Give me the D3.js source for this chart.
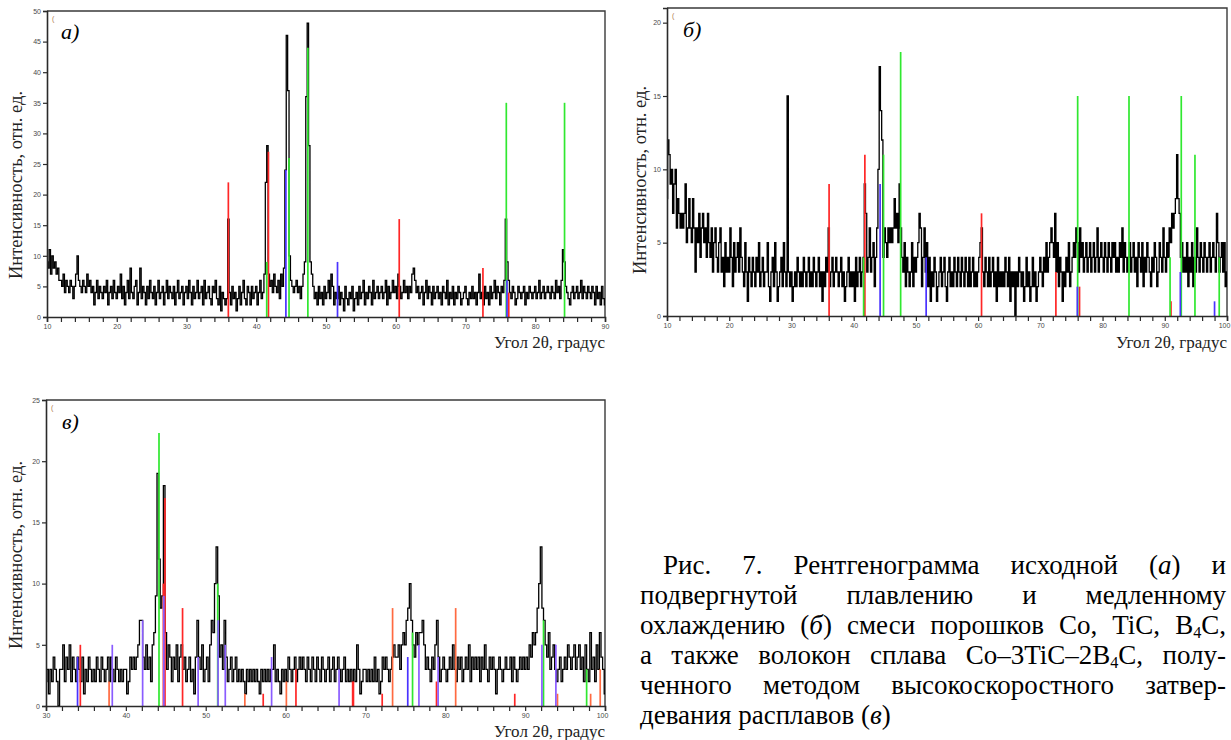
<!DOCTYPE html>
<html>
<head>
<meta charset="utf-8">
<script src="https://cdn.jsdelivr.net/npm/d3@7"></script>
<style>
body { margin: 0; background: #fff; }
</style>
</head>
<body>
<div id="root"></div>
<script>
// scan (a): 10..90 deg, step 0.2
var scanA = [
  9,8,11,7,10,8,9,7,8,6,  6,5,7,4,6,5,4,6,5,3,  5,7,10,6,5,4,6,5,4,7,  5,6,4,5,2,4,6,3,5,4,
  3,5,4,6,2,4,5,3,6,4,  3,5,4,7,3,5,2,4,6,3,  8,4,3,5,6,2,4,8,3,5,  4,2,5,3,6,4,3,5,2,4,
  6,3,4,5,2,4,6,3,5,4,  3,5,2,4,6,3,4,5,2,4,  5,3,6,4,2,5,3,4,6,3,  4,5,2,6,3,4,5,3,2,5,
  4,6,3,2,5,1,4,3,2,3,  16,4,2,5,3,4,1,3,5,2,  4,6,3,2,5,4,2,5,3,4,  5,2,4,6,3,4,7,22,28,7,
  5,6,4,7,5,4,6,3,7,5,  8,24,46,37,10,6,5,4,5,6,  4,5,3,5,7,9,36,48,28,9,  7,5,3,4,2,5,3,4,2,5,
  3,4,6,3,7,5,2,4,3,5,  2,4,3,1,5,3,2,4,3,5,  1,3,4,2,5,3,4,6,2,4,  3,5,4,2,6,3,4,5,3,4,
  5,3,4,6,2,5,3,4,6,4,  5,3,7,5,3,4,6,4,5,3,  5,4,7,8,6,4,5,3,4,5,  2,4,6,3,5,4,2,5,3,4,
  5,3,4,2,5,4,3,6,2,4,  3,5,2,4,3,5,4,2,3,4,  5,3,2,4,3,5,3,4,2,4,  7,3,4,2,5,3,4,2,5,3,
  4,6,3,5,4,2,5,4,6,16,  9,6,4,3,5,4,2,3,5,4,  3,4,5,2,4,3,5,4,3,4,  5,3,4,6,3,4,5,3,4,5,
  4,3,5,4,3,6,4,5,3,6,  11,9,5,4,3,2,4,5,3,4,  5,3,4,6,3,5,4,3,5,4,  3,5,4,2,5,3,4,2,5,3,
  2
];
// scan (б): 10..100 deg, step 0.2
var scanB = [
  8,12,11,9,10,7,9,10,6,8,  7,6,7,6,7,9,5,6,8,6,  5,8,6,3,6,5,7,4,6,7,  5,6,4,7,5,4,6,3,5,6,
  4,3,5,6,3,4,2,5,3,4,  3,6,4,2,5,3,4,5,3,6,  4,3,2,5,3,1,4,3,2,4,  3,2,4,3,5,2,3,4,2,3,
  3,5,2,1,3,4,2,5,3,1,  2,3,4,2,5,3,2,15,3,2,  3,1,2,3,2,4,3,2,3,2,  4,3,2,3,4,2,3,2,4,3,
  2,3,4,2,3,1,3,2,4,3,  6,2,3,4,2,3,4,3,2,3,  4,2,3,1,2,3,4,2,3,2,  3,1,4,2,3,4,2,3,4,9,
  7,3,4,6,3,4,5,2,4,6,  10,17,14,12,4,6,5,4,6,5,  6,5,6,8,6,7,5,9,6,4,  3,5,2,4,3,2,3,5,2,4,
  3,4,5,7,6,2,4,6,3,5,  2,4,1,3,2,4,3,1,2,3,  4,2,3,4,2,1,3,4,2,3,  2,4,3,2,4,3,2,4,3,2,
  4,3,2,4,2,3,4,2,3,2,  3,4,5,6,3,2,4,3,2,4,  2,3,4,2,3,1,4,2,3,2,  3,2,4,3,2,4,1,3,2,3,
  0,3,2,4,3,2,3,1,2,4,  2,3,1,2,4,2,3,1,2,3,  4,3,2,4,3,5,3,4,5,6,  5,4,7,3,5,2,4,3,1,3,
  2,4,3,5,2,3,4,5,4,6,  5,3,6,4,5,3,4,5,3,4,  5,3,4,5,3,4,6,3,4,5,  4,3,5,4,3,5,4,3,5,4,
  5,3,4,3,5,4,6,3,5,4,  3,4,5,3,4,5,3,4,2,5,  4,3,5,2,4,3,5,4,3,2,  4,3,5,4,2,3,5,4,3,6,
  4,3,5,4,6,5,7,6,7,8,  11,8,7,4,5,3,4,3,5,2,  4,3,5,2,4,3,6,4,3,5,  4,3,5,4,3,4,5,3,4,5,
  4,3,7,5,3,4,5,3,5,2,
  3
];
// scan (в): 30..100 deg, step 0.2
var scanC = [
  2,3,1,3,2,4,3,2,0,3,  3,5,2,4,3,5,2,4,3,2,  4,3,2,4,1,3,2,4,3,2,  3,2,4,3,2,4,3,2,3,4,
  2,4,3,2,4,3,2,3,2,3,  3,1,2,4,3,4,3,4,5,7,  7,4,3,5,3,4,2,5,6,9,  19,12,8,9,18,6,3,5,4,2,
  4,3,5,2,4,5,3,4,2,3,  4,2,3,1,4,7,4,3,5,2,  3,4,2,5,7,6,10,13,9,4,  5,3,7,4,2,3,4,2,3,4,
  2,3,2,3,2,1,3,2,3,2,  3,2,3,2,1,3,2,3,2,3,  2,3,3,5,2,3,2,1,3,2,  3,2,4,3,2,3,4,2,3,4,
  3,4,3,2,4,3,2,4,3,2,  4,3,2,4,3,2,3,4,2,3,  4,2,3,4,3,2,3,4,2,3,  2,3,2,3,2,5,3,1,2,3,
  3,2,3,2,3,2,4,2,3,1,  2,4,3,4,3,2,3,4,5,4,  4,5,3,5,6,5,7,8,10,7,  5,4,6,5,6,6,7,5,3,4,
  3,2,4,3,5,7,4,2,3,4,  3,2,3,4,3,5,3,2,4,3,  4,2,3,4,3,5,2,4,3,4,  3,4,2,4,3,5,3,2,4,3,
  4,3,1,3,4,3,2,3,4,3,  3,4,2,4,3,2,3,4,3,4,  3,4,3,5,4,6,5,6,8,10,  13,8,7,5,4,6,3,4,5,3,
  2,3,4,2,3,4,3,5,4,3,  4,5,3,4,5,3,4,2,5,3,  2,6,3,4,2,5,3,6,4,3,
  1
];

// reference lines [2theta, intensity]
var aRed   = [[36.0, 22], [41.75, 27], [60.5, 16], [72.5, 8], [76.2, 4]];
var aGreen = [[41.5, 9], [44.7, 26], [47.4, 44], [75.85, 35], [84.2, 35]];
var aBlue  = [[44.25, 24], [51.65, 9], [75.95, 6]];

var bRed   = [[36.05, 9], [41.8, 11], [60.55, 7], [72.5, 3], [76.3, 2], [91.0, 1]];
var bGreen = [[41.6, 4], [44.8, 11], [47.55, 18], [76.0, 15], [84.25, 15], [90.85, 4], [92.65, 15], [94.85, 11], [98.75, 4]];
var bBlue  = [[44.25, 9], [51.65, 4], [75.95, 2], [92.5, 3], [98.0, 1]];

var cRed    = [[34.3, 5], [44.7, 10], [44.9, 17], [47.1, 8], [57.2, 1], [61.3, 3], [68.4, 2], [68.5, 2], [72.1, 1], [78.9, 2], [88.7, 1]];
var cOrange = [[37.9, 2], [54.9, 1], [60.1, 2], [73.4, 8], [81.3, 8], [94.05, 1], [98.2, 1], [99.4, 3]];
var cGreen  = [[44.15, 22.3], [51.5, 10], [75.9, 6], [92.3, 7], [97.7, 3]];
var cBlue   = [[33.95, 4], [75.3, 4]];
var cViolet = [[38.3, 5], [42.1, 7], [44.75, 9], [49.05, 4], [51.55, 7], [52.45, 5], [58.25, 4], [66.7, 3], [76.7, 5], [79.1, 4], [92.1, 5], [93.85, 5]];

var yTitle = "Интенсивность, отн. ед.";
var xTitle = "Угол 2θ, градус";

var captionLines = [
  "Рис. 7. Рентгенограмма исходной (<i>а</i>) и",
  "подвергнутой плавлению и медленному",
  "охлаждению (<i>б</i>) смеси порошков Co, TiC, B<sub>4</sub>C,",
  "а также волокон сплава Co–3TiC–2B<sub>4</sub>C, полу-",
  "ченного методом высокоскоростного затвер-",
  "девания расплавов (<i>в</i>)"
];

var colors = { red: "#ff2626", green: "#30e830", blue: "#4a32ff", orange: "#ff6a40", violet: "#8a5cff" };
var serif = "'Liberation Serif', 'Times New Roman', serif";

var svg = d3.select("#root").append("svg")
  .attr("width", 1231)
  .attr("height", 740)
  .style("display", "block");

function drawPanel(p) {
  var g = svg.append("g");
  var x = d3.scaleLinear().domain(p.xDom).range([p.x0, p.x1]);
  var y = d3.scaleLinear().domain(p.yDom).range([p.y0, p.y1]);

  // top and right frame
  g.append("path")
    .attr("d", "M" + p.x0 + "," + p.y1 + "H" + p.x1 + "V" + p.y0)
    .attr("fill", "none").attr("stroke", "#3a3a3a").attr("stroke-width", 1.4);

  // measured scan
  var pts = p.scan.map(function (v, i) { return [p.xDom[0] + i * p.step, v]; });
  var line = d3.line().x(function (d) { return x(d[0]); }).y(function (d) { return y(d[1]); }).curve(d3.curveStep);
  g.append("path").datum(pts)
    .attr("d", line)
    .attr("fill", "none").attr("stroke", "#000").attr("stroke-width", 1.3);

  // phase reference lines
  p.sticks.forEach(function (s) {
    g.append("g").selectAll("line").data(s.data).join("line")
      .attr("x1", function (d) { return x(d[0]); })
      .attr("x2", function (d) { return x(d[0]); })
      .attr("y1", y(0))
      .attr("y2", function (d) { return y(d[1]); })
      .attr("stroke", colors[s.color]).attr("stroke-width", 1.7);
  });

  // axes
  var xAxis = d3.axisBottom(x)
    .tickValues(d3.range(p.xDom[0], p.xDom[1] + 0.01, 2))
    .tickSize(5).tickPadding(2)
    .tickFormat(function (d) { return d % 10 === 0 ? d : ""; });
  var gx = g.append("g").attr("transform", "translate(0," + p.y0 + ")").call(xAxis);
  gx.selectAll(".tick text").filter(function (d) { return d === p.xDom[1] && d >= 100; }).attr("dx", -3);

  var yAxis = d3.axisLeft(y)
    .tickValues(d3.range(0, p.yDom[1] + 0.01, 5))
    .tickSize(4).tickPadding(2)
    .tickFormat(d3.format("d"));
  var gy = g.append("g").attr("transform", "translate(" + p.x0 + ",0)").call(yAxis);

  [gx, gy].forEach(function (a) {
    a.attr("font-family", "'Liberation Sans', Arial, sans-serif").attr("font-size", 7);
    a.select(".domain").attr("stroke", "#2a2a2a").attr("stroke-width", 1.6);
    a.selectAll(".tick line").attr("stroke", "#2a2a2a").attr("stroke-width", 1.2);
    a.selectAll(".tick text").attr("fill", "#4a4a4a");
  });

  // little legend remnant in the corner
  g.append("text").attr("x", p.x0 + 5).attr("y", p.y1 + 10)
    .attr("font-size", 7).attr("fill", "#b07a50").attr("font-family", "'Liberation Sans', sans-serif").text("(");

  // panel letter
  g.append("text").attr("x", p.labelX).attr("y", p.labelY)
    .attr("font-family", serif)
    .attr("font-style", "italic").attr("font-size", 22).attr("fill", "#000")
    .text(p.label);

  // axis titles
  g.append("text")
    .attr("transform", "translate(" + p.yTitleX + "," + p.yTitleY + ") rotate(-90)")
    .attr("text-anchor", "middle")
    .attr("font-family", serif)
    .attr("font-size", 18.5).attr("fill", "#222")
    .text(yTitle);
  g.append("text")
    .attr("x", p.x1).attr("y", p.xTitleY)
    .attr("text-anchor", "end")
    .attr("font-family", serif)
    .attr("font-size", 17).attr("fill", "#222")
    .text(xTitle);
}

drawPanel({
  x0: 47, x1: 605, y0: 317, y1: 11, xDom: [10, 90], yDom: [0, 50], step: 0.2, scan: scanA,
  sticks: [{ data: aRed, color: "red" }, { data: aGreen, color: "green" }, { data: aBlue, color: "blue" }],
  label: "а)", labelX: 61, labelY: 39, yTitleX: 22, yTitleY: 185, xTitleY: 348
});

drawPanel({
  x0: 667, x1: 1227, y0: 316, y1: 8, xDom: [10, 100], yDom: [0, 21], step: 0.2, scan: scanB,
  sticks: [{ data: bRed, color: "red" }, { data: bGreen, color: "green" }, { data: bBlue, color: "blue" }],
  label: "б)", labelX: 683, labelY: 37, yTitleX: 646, yTitleY: 180, xTitleY: 348
});

drawPanel({
  x0: 46, x1: 605, y0: 706, y1: 400, xDom: [30, 100], yDom: [0, 25], step: 0.2, scan: scanC,
  sticks: [{ data: cRed, color: "red" }, { data: cOrange, color: "orange" }, { data: cGreen, color: "green" },
           { data: cBlue, color: "blue" }, { data: cViolet, color: "violet" }],
  label: "в)", labelX: 62, labelY: 429, yTitleX: 22, yTitleY: 555, xTitleY: 737
});

// caption: every line but the last is justified between its left and right edges
var capLeft = 640, capRight = 1226, capIndent = 23, capTop = 574, capLead = 30, capSize = 27;
var capG = svg.append("g").attr("font-family", serif).attr("font-size", capSize).attr("fill", "#000");

captionLines.forEach(function (txt, li) {
  var words = txt.split(" ");
  var nodes = words.map(function (w) {
    var t = capG.append("text").attr("y", capTop + li * capLead);
    var re = /<(i|sub)>(.*?)<\/\1>|([^<]+)/g, m, shifted = false;
    while ((m = re.exec(w)) !== null) {
      var ts = t.append("tspan");
      if (m[1] === "i") { ts.attr("font-style", "italic").text(m[2]); }
      else if (m[1] === "sub") { ts.attr("font-size", capSize * 0.6).attr("dy", 3.5).text(m[2]); shifted = true; }
      else { ts.text(m[3]); if (shifted) { ts.attr("dy", -3.5); shifted = false; } }
    }
    return t;
  });
  var widths = nodes.map(function (t) { return t.node().getComputedTextLength(); });
  var left = capLeft + (li === 0 ? capIndent : 0);
  var total = d3.sum(widths);
  var last = li === captionLines.length - 1;
  var gap = last ? capSize * 0.25 : Math.max(4, (capRight - left - total) / Math.max(1, words.length - 1));
  var cx = left;
  nodes.forEach(function (t, k) { t.attr("x", cx); cx += widths[k] + gap; });
});
</script>
</body>
</html>
